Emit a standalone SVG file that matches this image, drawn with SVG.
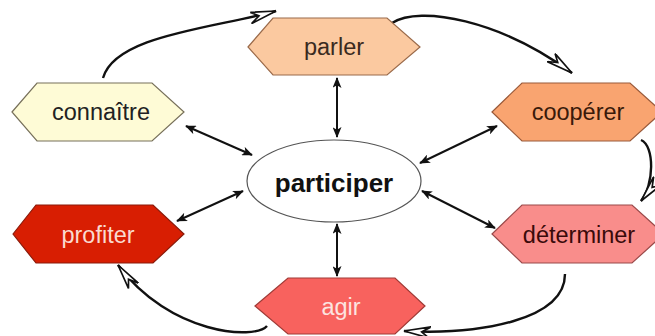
<svg xmlns="http://www.w3.org/2000/svg" width="655" height="336" viewBox="0 0 655 336">
<style>
.hex{stroke-width:1.2}
.lbl{font-family:"Liberation Sans",Arial,sans-serif;font-size:23.5px;text-anchor:middle}
.dbl{fill:none;stroke:#111;stroke-width:2;marker-start:url(#sol);marker-end:url(#sol)}
.crv{fill:none;stroke:#111;stroke-width:2.4;marker-end:url(#hol)}
</style>
<defs>
<marker id="sol" viewBox="0 0 12 10" refX="11" refY="5" markerWidth="11" markerHeight="9" markerUnits="userSpaceOnUse" orient="auto-start-reverse">
<path d="M0,0 L12,5 L0,10 L3,5 z" fill="#111"/>
</marker>
<marker id="hol" viewBox="0 0 30 14" refX="29" refY="7" markerWidth="28" markerHeight="13" markerUnits="userSpaceOnUse" orient="auto">
<path d="M0,13 L29,7 L2,1 L10,7 z" fill="#fff" stroke="#111" stroke-width="1.8" stroke-linejoin="miter"/>
</marker>
</defs>
<g id="connectors">
<path class="crv" d="M103,78 C115,35 215,28 276,11"/>
<path class="crv" d="M392,23 C420,5 500,20 572,73"/>
<path class="crv" d="M641,140 C655,146 654,185 641,201"/>
<path class="crv" d="M565,274 C565,320 480,335 404,331"/>
<path class="crv" d="M267,326 C255,340 170,335 118,265"/>
<path class="dbl" d="M337,78 L337,137"/>
<path class="dbl" d="M337,224 L337,276"/>
<path class="dbl" d="M186,126 L252,155"/>
<path class="dbl" d="M497,126 L420,163"/>
<path class="dbl" d="M177,221 L243,191"/>
<path class="dbl" d="M422,191 L495,228"/>
</g>
<g id="participer">
<ellipse cx="334" cy="181" rx="87" ry="41" fill="#fff" stroke="#555" stroke-width="1.2"/>
<text x="334" y="192" font-family="Liberation Sans,Arial,sans-serif" font-size="26" font-weight="bold" text-anchor="middle" fill="#111">participer</text>
</g>
<g id="parler">
<polygon class="hex" points="248,47 273,18 387,18 420,47 387,75 273,75" fill="#FBC9A0" stroke="#9A6A4A"/>
<text class="lbl" x="334" y="55" fill="#3a2a20">parler</text>
</g>
<g id="connaitre">
<polygon class="hex" points="12,112 37,83 152,83 184,112 152,141 37,141" fill="#FEFBD6" stroke="#77705A"/>
<text class="lbl" x="101" y="120" fill="#222">connaître</text>
</g>
<g id="cooperer">
<polygon class="hex" points="492,112 522,83 630,83 662,112 630,141 522,141" fill="#F9A470" stroke="#9A5A3A"/>
<text class="lbl" x="578" y="120" fill="#3a1a0a">coopérer</text>
</g>
<g id="determiner">
<polygon class="hex" points="492,234 522,205 632,205 664,234 632,263 522,263" fill="#F98D8B" stroke="#9A4A4A"/>
<text class="lbl" x="579" y="243" fill="#3a0a0a">déterminer</text>
</g>
<g id="agir">
<polygon class="hex" points="255,306 288,278 395,278 425,306 395,334 288,334" fill="#F8625E" stroke="#A03A36"/>
<text class="lbl" x="341" y="315" fill="#FCE4E0">agir</text>
</g>
<g id="profiter">
<polygon class="hex" points="13,234 36,205 153,205 184,234 153,263 36,263" fill="#D81E02" stroke="#8A1A0A"/>
<text class="lbl" x="98" y="243" fill="#FADAD0">profiter</text>
</g>
</svg>
